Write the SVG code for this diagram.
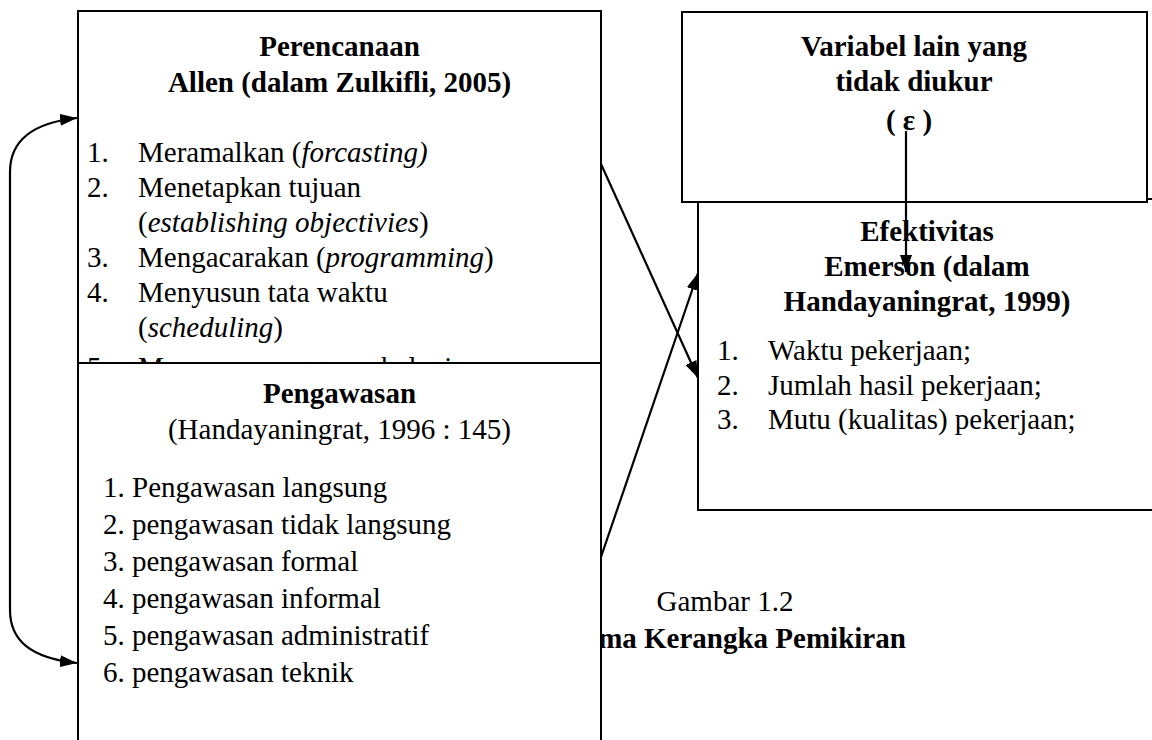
<svg xmlns="http://www.w3.org/2000/svg" width="1152" height="740" viewBox="0 0 1152 740">
<defs>
<style>
.box{fill:#fff;stroke:#000;stroke-width:2}
.t{font-family:"Liberation Serif","Times New Roman",serif;font-size:29px;fill:#000}
.b{font-weight:bold}
.c{text-anchor:middle}
.i{font-style:italic}
.con{fill:none;stroke:#000;stroke-width:2.2}
</style>
<marker id="ah" markerUnits="userSpaceOnUse" markerWidth="17" markerHeight="12" refX="17" refY="6" orient="auto-start-reverse">
<path d="M0,0 L17,6 L0,12 z" fill="#000"/>
</marker>
<clipPath id="cut5"><rect x="78" y="340" width="523" height="23"/></clipPath>
</defs>
<rect width="1152" height="740" fill="#fff"/>
<g id="caption">
<text class="t c" x="725" y="611">Gambar 1.2</text>
<text class="t b" x="553" y="648">Skema Kerangka Pemikiran</text>
</g>
<g id="perencanaan">
<rect class="box" x="78" y="11" width="523" height="420"/>
<text class="t b c" x="339.5" y="56">Perencanaan</text>
<text class="t b c" x="339.5" y="92">Allen (dalam Zulkifli, 2005)</text>
<text class="t" x="87" y="162">1.</text><text class="t" x="138" y="162">Meramalkan (<tspan class="i">forcasting)</tspan></text>
<text class="t" x="87" y="197">2.</text><text class="t" x="138" y="197">Menetapkan tujuan</text>
<text class="t" x="138" y="232">(<tspan class="i">establishing objectivies</tspan>)</text>
<text class="t" x="87" y="267">3.</text><text class="t" x="138" y="267">Mengacarakan (<tspan class="i">programming</tspan>)</text>
<text class="t" x="87" y="302">4.</text><text class="t" x="138" y="302">Menyusun tata waktu</text>
<text class="t" x="138" y="337">(<tspan class="i">scheduling</tspan>)</text>
<g clip-path="url(#cut5)"><text class="t" x="87" y="377">5.</text><text class="t" x="138" y="377">Menyusun anggaran belanja</text></g>
</g>
<g id="pengawasan">
<rect class="box" x="78" y="363" width="523" height="390"/>
<text class="t b c" x="339.5" y="403">Pengawasan</text>
<text class="t c" x="339.5" y="439">(Handayaningrat, 1996 : 145)</text>
<text class="t" x="103" y="497">1. Pengawasan langsung</text>
<text class="t" x="103" y="534">2. pengawasan tidak langsung</text>
<text class="t" x="103" y="571">3. pengawasan formal</text>
<text class="t" x="103" y="608">4. pengawasan informal</text>
<text class="t" x="103" y="645">5. pengawasan administratif</text>
<text class="t" x="103" y="682">6. pengawasan teknik</text>
</g>
<g id="efektivitas">
<rect class="box" x="698" y="199" width="462" height="311"/>
<text class="t b c" x="927" y="241">Efektivitas</text>
<text class="t b c" x="927" y="276">Emerson (dalam</text>
<text class="t b c" x="927" y="311">Handayaningrat, 1999)</text>
<text class="t" x="717" y="360">1.</text><text class="t" x="768" y="360">Waktu pekerjaan;</text>
<text class="t" x="717" y="395">2.</text><text class="t" x="768" y="395">Jumlah hasil pekerjaan;</text>
<text class="t" x="717" y="429">3.</text><text class="t" x="768" y="429">Mutu (kualitas) pekerjaan;</text>
</g>
<g id="variabel">
<rect class="box" x="682" y="12" width="465" height="190"/>
<text class="t b c" x="914" y="56">Variabel lain yang</text>
<text class="t b c" x="914" y="91">tidak diukur</text>
<text class="t b c" x="909" y="130">( ε )</text>
</g>
<g id="connectors">
<path class="con" d="M77,118 C30,123 10,142 10,172 L10,610 C10,640 30,658 77,663" marker-start="url(#ah)" marker-end="url(#ah)"/>
<line class="con" x1="601" y1="164" x2="698" y2="378" marker-end="url(#ah)"/>
<line class="con" x1="601" y1="557" x2="698" y2="273" marker-end="url(#ah)"/>
<line class="con" x1="906" y1="131" x2="906" y2="272" marker-end="url(#ah)"/>
</g>
</svg>
